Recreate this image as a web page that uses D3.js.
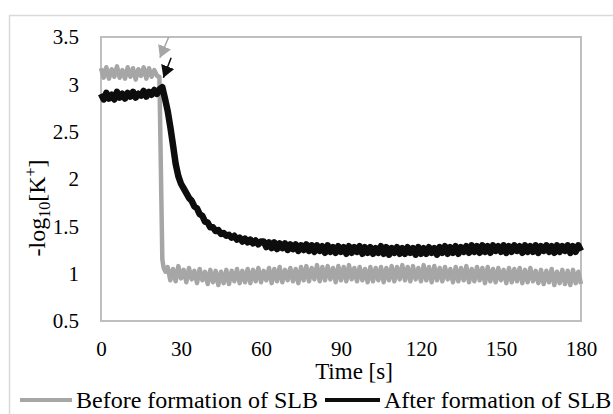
<!DOCTYPE html>
<html>
<head>
<meta charset="utf-8">
<script src="https://cdn.jsdelivr.net/npm/d3@7"></script>
<style>
body { margin: 0; background: #fff; }
svg { display: block; font-family: "Liberation Serif", "Times New Roman", serif; }
</style>
</head>
<body>
<div id="chart"></div>
<script>
// axis ticks
var xTicks = [0, 30, 60, 90, 120, 150, 180];
var yTicks = [0.5, 1, 1.5, 2, 2.5, 3, 3.5];

var seriesNames = ["Before formation of SLB", "After formation of SLB"];
var seriesColors = ["#a6a6a6", "#0d0d0d"];

// before formation of SLB (grey)
var beforeTime = [
  0,1,2,3,4,5,6,7,8,9,10,11,12,13,14,15,16,17,18,19,20,21,
  21.9,23.0,23.5,24.2,
  25,26,27,28,29,30,31,32,33,34,
  35,36,37,38,39,40,41,42,43,44,
  45,46,47,48,49,50,51,52,53,54,
  55,56,57,58,59,60,61,62,63,64,
  65,66,67,68,69,70,71,72,73,74,
  75,76,77,78,79,80,81,82,83,84,
  85,86,87,88,89,90,91,92,93,94,
  95,96,97,98,99,100,101,102,103,104,
  105,106,107,108,109,110,111,112,113,114,
  115,116,117,118,119,120,121,122,123,124,
  125,126,127,128,129,130,131,132,133,134,
  135,136,137,138,139,140,141,142,143,144,
  145,146,147,148,149,150,151,152,153,154,
  155,156,157,158,159,160,161,162,163,164,
  165,166,167,168,169,170,171,172,173,174,
  175,176,177,178,179,180
];
var beforeValue = [
  3.17,3.07,3.18,3.06,3.16,3.08,3.19,3.07,3.15,3.06,3.18,3.08,3.17,3.05,3.16,3.09,3.18,3.06,3.17,3.08,3.15,3.09,
  3.08,1.15,1.06,1.02,
  1.07,0.93,1.05,0.92,1.08,0.95,1.04,0.91,1.06,0.94,
  1.03,0.90,1.05,0.93,1.02,0.89,1.04,0.91,1.03,0.88,
  1.02,0.90,1.04,0.89,1.03,0.92,1.05,0.90,1.03,0.91,
  1.05,0.90,1.04,0.92,1.06,0.91,1.03,0.93,1.06,0.90,
  1.05,0.92,1.07,0.91,1.04,0.93,1.06,0.92,1.05,0.90,
  1.07,0.93,1.08,0.92,1.06,0.94,1.09,0.92,1.07,0.93,
  1.08,0.94,1.06,0.91,1.08,0.93,1.07,0.92,1.09,0.94,
  1.06,0.92,1.07,0.93,1.05,0.91,1.07,0.92,1.06,0.93,
  1.07,0.91,1.06,0.93,1.08,0.92,1.07,0.94,1.09,0.93,
  1.07,0.92,1.08,0.94,1.06,0.92,1.09,0.93,1.07,0.91,
  1.08,0.93,1.06,0.92,1.07,0.94,1.05,0.91,1.07,0.92,
  1.06,0.93,1.08,0.91,1.05,0.92,1.07,0.93,1.06,0.90,
  1.07,0.92,1.05,0.91,1.06,0.93,1.04,0.90,1.06,0.91,
  1.05,0.92,1.06,0.90,1.04,0.91,1.06,0.92,1.03,0.90,
  1.04,0.89,1.03,0.91,1.05,0.88,1.02,0.90,1.04,0.89,
  1.03,0.88,1.04,0.90,1.02,0.89
];

// after formation of SLB (black)
var afterTime = [
  0,1,2,3,4,5,6,7,8,9,10,11,12,13,14,15,16,17,18,19,20,21,22,
  23,
  24,25,26,27,28,29,30,31,32,33,34,35,36,37,38,39,40,41,42,
  43,44,45,46,47,48,49,50,51,52,53,54,55,56,57,58,59,60,
  61,62,63,64,65,66,67,68,69,70,
  71,72,73,74,75,76,77,78,79,80,
  81,82,83,84,85,86,87,88,89,90,
  91,92,93,94,95,96,97,98,99,100,
  101,102,103,104,105,106,107,108,109,110,
  111,112,113,114,115,116,117,118,119,120,
  121,122,123,124,125,126,127,128,129,130,
  131,132,133,134,135,136,137,138,139,140,
  141,142,143,144,145,146,147,148,149,150,
  151,152,153,154,155,156,157,158,159,160,
  161,162,163,164,165,166,167,168,169,170,
  171,172,173,174,175,176,177,178,179,180
];
var afterValue = [
  2.90,2.84,2.91,2.85,2.89,2.84,2.92,2.86,2.90,2.85,2.91,2.87,2.92,2.86,2.90,2.88,2.93,2.87,2.92,2.89,2.94,2.90,2.95,
  2.97,
  2.85,2.72,2.55,2.36,2.16,2.03,1.95,1.90,1.85,1.80,1.77,1.71,1.69,1.63,1.61,1.55,1.54,1.49,1.49,
  1.45,1.46,1.42,1.43,1.40,1.41,1.38,1.40,1.36,1.38,1.34,1.37,1.33,1.36,1.32,1.35,1.31,1.34,
  1.34,1.28,1.33,1.27,1.33,1.26,1.32,1.27,1.32,1.25,
  1.31,1.26,1.31,1.24,1.30,1.25,1.31,1.24,1.30,1.23,
  1.30,1.24,1.29,1.22,1.30,1.23,1.28,1.22,1.29,1.23,
  1.28,1.21,1.29,1.22,1.28,1.23,1.29,1.21,1.28,1.22,
  1.28,1.21,1.27,1.22,1.29,1.21,1.28,1.20,1.27,1.22,
  1.28,1.21,1.27,1.21,1.28,1.22,1.27,1.20,1.28,1.21,
  1.27,1.21,1.28,1.22,1.27,1.20,1.28,1.22,1.29,1.21,
  1.28,1.22,1.29,1.21,1.28,1.23,1.29,1.22,1.30,1.23,
  1.29,1.22,1.30,1.23,1.29,1.22,1.30,1.24,1.29,1.23,
  1.30,1.22,1.29,1.23,1.30,1.24,1.29,1.22,1.30,1.23,
  1.29,1.23,1.30,1.22,1.29,1.24,1.30,1.23,1.29,1.22,
  1.30,1.23,1.29,1.24,1.30,1.22,1.29,1.23,1.30,1.24
];

// arrows marking the injection (tail -> head, in data units)
var arrowTail = [[25.4, 3.5], [26.3, 3.28]];
var arrowHead = [[22.1, 3.28], [23.4, 3.07]];

var width = 613, height = 414;
var plot = {left: 101, top: 37, right: 581, bottom: 321};
var serif = "Liberation Serif, Times New Roman, serif";

var svg = d3.select("#chart").append("svg")
  .attr("width", width)
  .attr("height", height);

// chart area border
svg.append("rect")
  .attr("x", 9.5).attr("y", 15.5)
  .attr("width", 620).attr("height", 420)
  .attr("fill", "#fff")
  .attr("stroke", "#d9d9d9")
  .attr("stroke-width", 1.5);

var xScale = d3.scaleLinear().domain([0, 180]).range([plot.left, plot.right]);
var yScale = d3.scaleLinear().domain([0.5, 3.5]).range([plot.bottom, plot.top]);

// plot area border
svg.append("rect")
  .attr("x", plot.left).attr("y", plot.top)
  .attr("width", plot.right - plot.left).attr("height", plot.bottom - plot.top)
  .attr("fill", "none")
  .attr("stroke", "#bfbfbf")
  .attr("stroke-width", 2);

var xAxis = d3.axisBottom(xScale).tickValues(xTicks).tickSize(0).tickPadding(20);
var yAxis = d3.axisLeft(yScale).tickValues(yTicks).tickSize(0).tickPadding(22)
  .tickFormat(d3.format(""));

svg.append("g")
  .attr("transform", `translate(0,${plot.bottom})`)
  .call(xAxis)
  .attr("font-family", serif)
  .attr("font-size", 21)
  .call(g => g.select(".domain").remove())
  .selectAll("text")
    .attr("fill", "#000");

svg.append("g")
  .attr("transform", `translate(${plot.left},0)`)
  .call(yAxis)
  .attr("font-family", serif)
  .attr("font-size", 21)
  .call(g => g.select(".domain").remove())
  .selectAll("text")
    .attr("fill", "#000");

// series
var line = d3.line()
  .x(d => xScale(d[0]))
  .y(d => yScale(d[1]));

var before = beforeTime.map((t, i) => [t, beforeValue[i]]);
var after = afterTime.map((t, i) => [t, afterValue[i]]);

svg.append("path")
  .datum(before)
  .attr("fill", "none")
  .attr("stroke", seriesColors[0])
  .attr("stroke-width", 4.5)
  .attr("stroke-linejoin", "round")
  .attr("d", line);

svg.append("path")
  .datum(after)
  .attr("fill", "none")
  .attr("stroke", seriesColors[1])
  .attr("stroke-width", 6.5)
  .attr("stroke-linejoin", "round")
  .attr("d", line);

// arrow heads
var defs = svg.append("defs");
seriesColors.forEach(function(c, i) {
  defs.append("marker")
    .attr("id", "head" + i)
    .attr("markerUnits", "userSpaceOnUse")
    .attr("viewBox", "0 0 12 14")
    .attr("refX", 12).attr("refY", 7)
    .attr("markerWidth", 12).attr("markerHeight", 14)
    .attr("orient", "auto")
    .append("path")
      .attr("d", "M0,0 L12,7 L0,14 Z")
      .attr("fill", c);
});

svg.selectAll(".arrow")
  .data(arrowTail)
  .enter().append("line")
  .attr("class", "arrow")
  .attr("x1", d => xScale(d[0]))
  .attr("y1", d => yScale(d[1]))
  .attr("x2", (d, i) => xScale(arrowHead[i][0]))
  .attr("y2", (d, i) => yScale(arrowHead[i][1]))
  .attr("stroke", (d, i) => seriesColors[i])
  .attr("stroke-width", 1.5)
  .attr("marker-end", (d, i) => `url(#head${i})`);

// axis titles
svg.append("text")
  .attr("x", 354).attr("y", 379)
  .attr("text-anchor", "middle")
  .style("font-size", "23px")
  .text("Time [s]");

var yTitle = svg.append("text")
  .attr("transform", "translate(45,208) rotate(-90)")
  .attr("text-anchor", "middle")
  .style("font-size", "24px");
yTitle.append("tspan").text("-log");
yTitle.append("tspan").attr("dy", 5).style("font-size", "16px").text("10");
yTitle.append("tspan").attr("dy", -5).text("[K");
yTitle.append("tspan").attr("dy", -9).style("font-size", "16px").text("+");
yTitle.append("tspan").attr("dy", 9).text("]");

// legend
var legendX = [20, 325];
var legendLen = [52, 55];
var legend = svg.selectAll(".legend")
  .data(seriesNames)
  .enter().append("g")
  .attr("class", "legend")
  .attr("transform", (d, i) => `translate(${legendX[i]},400)`);

legend.append("line")
  .attr("x1", 0).attr("x2", (d, i) => legendLen[i])
  .attr("stroke", (d, i) => seriesColors[i])
  .attr("stroke-width", 4);

legend.append("text")
  .attr("x", (d, i) => legendLen[i] + 4)
  .attr("y", 7.5)
  .style("font-size", "24px")
  .text(d => d);
</script>
</body>
</html>
